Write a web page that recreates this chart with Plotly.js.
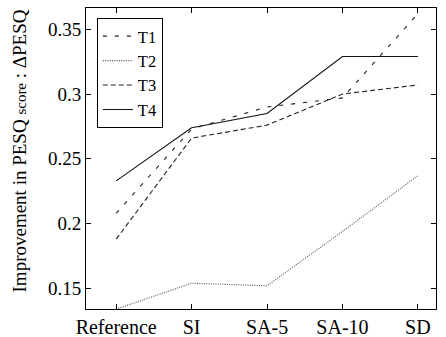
<!DOCTYPE html>
<html>
<head>
<meta charset="utf-8">
<script src="https://cdn.plot.ly/plotly-3.0.1.min.js"></script>
<style>html,body{margin:0;padding:0;background:#fff;}#chart{width:446px;height:337px;}</style>
</head>
<body>
<div id="chart"></div>
<script>
const categories = ["Reference", "SI", "SA-5", "SA-10", "SD"];
const seriesNames = ["T1", "T2", "T3", "T4"];
const T1 = [0.208, 0.273, 0.290, 0.297, 0.362];
const T2 = [0.134, 0.154, 0.152, 0.194, 0.237];
const T3 = [0.188, 0.266, 0.276, 0.300, 0.307];
const T4 = [0.233, 0.274, 0.285, 0.329, 0.329];
const yTicks = [0.15, 0.2, 0.25, 0.3, 0.35];
const yTickText = ["0.15", "0.2", "0.25", "0.3", "0.35"];
const yTitle = "Improvement in PESQ <span style=\"font-size:15px\">score</span> : ΔPESQ";

const dashes = ["4px,8px", "1px,1.3px", "5px,3px", "solid"];
const colors = ["#222", "#555", "#222", "#111"];
const values = [T1, T2, T3, T4];

const traces = values.map((v, i) => ({
  x: categories,
  y: v,
  name: seriesNames[i],
  type: "scatter",
  mode: "lines",
  line: {color: colors[i], width: 1.1, dash: dashes[i]}
}));

const FAM = "Liberation Serif";

const layout = {
  width: 446, height: 337,
  margin: {l: 86, r: 10, t: 8, b: 28},
  paper_bgcolor: "#fff", plot_bgcolor: "#fff",
  font: {family: FAM, size: 18, color: "#000"},
  showlegend: true,
  legend: {
    x: 0.031, y: 0.967, xanchor: "left", yanchor: "top",
    bordercolor: "#000", borderwidth: 1, bgcolor: "#fff",
    font: {family: FAM, size: 16.5, color: "#000"},
    tracegroupgap: 0, itemwidth: 30
  },
  xaxis: {
    type: "category",
    categoryorder: "array", categoryarray: categories,
    range: [-0.4, 4.24],
    showline: true, linecolor: "#000", linewidth: 1, mirror: "ticks",
    ticks: "inside", ticklen: 5, tickcolor: "#000", tickwidth: 1,
    showgrid: false, zeroline: false,
    tickfont: {family: FAM, size: 20, color: "#000"}
  },
  yaxis: {
    range: [0.1341, 0.3664],
    tickvals: yTicks, ticktext: yTickText,
    showline: true, linecolor: "#000", linewidth: 1, mirror: "ticks",
    ticks: "inside", ticklen: 5, tickcolor: "#000", tickwidth: 1,
    showgrid: false, zeroline: false,
    tickfont: {family: FAM, size: 19, color: "#000"}
  },
  annotations: [{
    text: yTitle, textangle: -90,
    xref: "paper", yref: "paper", x: -0.19, y: 0.525,
    xanchor: "center", yanchor: "middle", showarrow: false,
    font: {family: FAM, size: 19, color: "#000"}
  }]
};

Plotly.newPlot("chart", traces, layout, {displayModeBar: false, staticPlot: true});
</script>
</body>
</html>
